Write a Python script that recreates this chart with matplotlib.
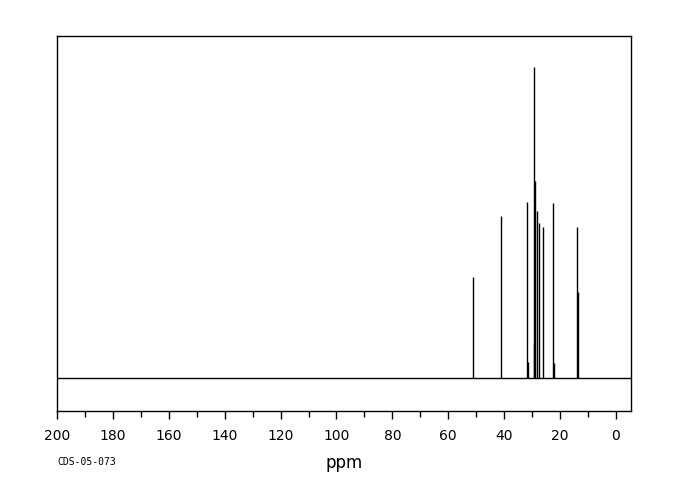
import matplotlib
matplotlib.use("Agg")
import matplotlib.pyplot as plt
from matplotlib.ticker import MultipleLocator

# Peak list (ppm) and relative intensities
peak_ppm = [51.05, 41.0, 31.7, 31.4, 29.4, 29.2, 28.9, 28.4, 27.4, 26.1, 22.4, 22.1, 13.85, 13.5]
peak_int = [101.3, 162.3, 176.3, 16.3, 35.0, 311.3, 197.0, 167.0, 154.7, 150.7, 175.3, 15.0, 151.3, 86.0]
tick_values = [200, 180, 160, 140, 120, 100, 80, 60, 40, 20, 0]
code_label = "CDS-05-073"
x_label = "ppm"

fig = plt.figure(figsize=(6.8, 5.0), dpi=100)
ax = fig.add_axes([57/680, 89/500, 574/680, 375/500])

ax.axhline(0, color="black", linewidth=1.0)
ax.vlines(peak_ppm, 0, peak_int, color="black", linewidth=1.0)

ax.set_xlim(200, -5.4)
ax.set_ylim(-33, 342)
ax.set_yticks([])
ax.set_xticks(tick_values)
ax.set_xticklabels([str(v) for v in tick_values])
ax.xaxis.set_minor_locator(MultipleLocator(10))
ax.tick_params(axis="x", which="major", direction="out", length=6, width=1, pad=7, labelsize=10)
ax.tick_params(axis="x", which="minor", direction="out", length=4, width=1)
for s in ax.spines.values():
    s.set_linewidth(1.0)
    s.set_color("black")

ax.set_xlabel(x_label, fontsize=12, labelpad=8)
fig.text(57/680, 1 - 462/500, code_label, fontsize=7, family="DejaVu Sans Mono", va="center", ha="left")

fig.savefig("out.png", dpi=100)
